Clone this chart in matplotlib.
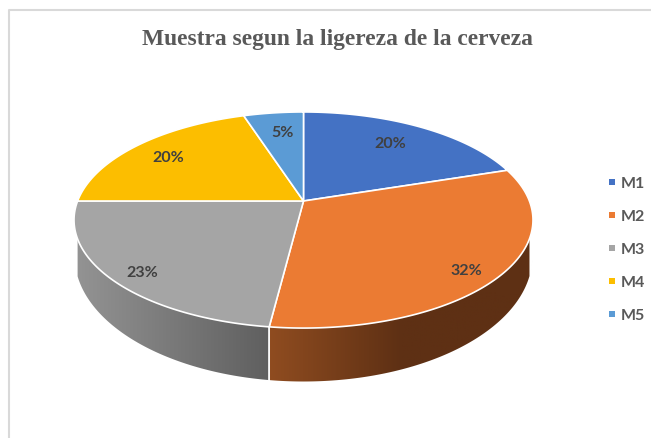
import numpy as np
import matplotlib
matplotlib.use('Agg')
import matplotlib.pyplot as plt
from matplotlib.patches import Polygon
from matplotlib.colors import LinearSegmentedColormap

# Muestra segun la ligereza de la cerveza
categories = ['M1', 'M2', 'M3', 'M4', 'M5']
values = [20, 32, 23, 20, 5]
labels = ['20%', '32%', '23%', '20%', '5%']
title = 'Muestra segun la ligereza de la cerveza'

colors = ['#4472C4', '#EB7B33', '#A5A5A5', '#FCBE00', '#5B9BD5']
label_xy = [(390, 144.5), (466, 271.5), (142, 273.5), (168, 158.5), (283, 133.5)]
legend_y = [183, 216, 249, 282, 315]

# perspective of the top face, in pixels
cx, cy = 303.5, 202
a, b, f = 225.9, 104.7, 0.176
# lower rim of the side
rim_rx, rim_ry, rim_cy = 228.8, 125, 257.5


def top_face(theta):
    d = 1 + f * np.cos(theta)
    return cx + a * np.sin(theta) / d, cy - b * np.cos(theta) / d


def lower_rim(x):
    u = np.clip((x - cx) / rim_rx, -1, 1)
    return rim_cy + rim_ry * np.sqrt(1 - u ** 2)


fig = plt.figure(figsize=(6.51, 4.39), dpi=100)
ax = fig.add_axes([0, 0, 1, 1])
ax.set_xlim(0, 651)
ax.set_ylim(439, 0)
ax.axis('off')

# chart frame
ax.plot([8.5, 8.5, 651], [439, 10.5, 10.5], color='#D9D9D9', lw=1.5, zorder=1)

edges = np.cumsum([0] + values) / sum(values) * 2 * np.pi

# side of the pie, only the front part shows
side_cmaps = {
    1: LinearSegmentedColormap.from_list('s2', ['#8F4C20', '#5E3014', '#5E3014']),
    2: LinearSegmentedColormap.from_list('s3', ['#949494', '#5F5F5F']),
}
side_range = {1: (270, 533), 2: (74, 270)}
for i in side_cmaps:
    t = np.linspace(edges[i], edges[i + 1], 300)
    x, y = top_face(t)
    keep = np.abs(x - cx) <= rim_rx
    # only the part of the rim walking along the front
    t = t[keep & (np.cos(t) < 0)]
    x, y = top_face(t)
    verts = list(zip(x, y)) + list(zip(x[::-1], lower_rim(x[::-1])))
    patch = Polygon(verts, closed=True, facecolor='none', edgecolor='none')
    ax.add_patch(patch)
    grad = np.linspace(0, 1, 256).reshape(1, -1)
    x0, x1 = side_range[i]
    im = ax.imshow(grad, cmap=side_cmaps[i], extent=[x0, x1, 390, 200],
                   aspect='auto', zorder=2)
    im.set_clip_path(patch)

ax.set_xlim(0, 651)
ax.set_ylim(439, 0)

# divider on the side between M2 and M3
x_div, y_div = top_face(edges[2])
ax.plot([x_div, x_div], [y_div, lower_rim(x_div)], color='white', lw=1.2, zorder=3)

# top face
for i in range(len(values)):
    t = np.linspace(edges[i], edges[i + 1], 200)
    x, y = top_face(t)
    verts = [(cx, cy)] + list(zip(x, y))
    ax.add_patch(Polygon(verts, closed=True, facecolor=colors[i],
                         edgecolor='white', lw=1.2, joinstyle='round', zorder=4))
    ax.text(label_xy[i][0], label_xy[i][1], labels[i], ha='center', va='center',
            family='Lato', weight='bold', fontsize=11.5, color='#404040', zorder=5)

# legend
for name, col, ly in zip(categories, colors, legend_y):
    ax.plot(612, ly, marker='s', ms=4.4, color=col, mew=0, zorder=5)
    ax.text(621, ly + 1.5, name, ha='left', va='center', family='Lato', weight='bold',
            fontsize=11.5, color='#595959')

ax.text(337.5, 40, title, ha='center', va='center', family='Liberation Serif',
        weight='bold', fontsize=16.9, color='#595959')

fig.savefig('out.png', dpi=100)
